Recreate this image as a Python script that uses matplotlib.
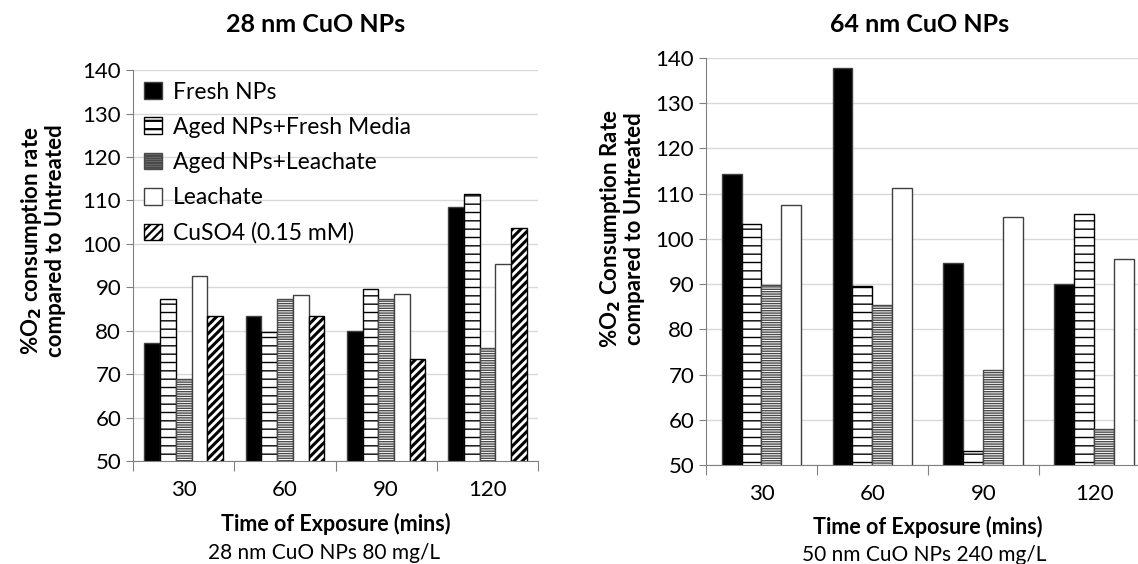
#!/usr/bin/env python3
# Two grouped bar charts: O2 consumption rate vs exposure time for CuO NPs

import numpy as np
import matplotlib
matplotlib.use('Agg')
import matplotlib.pyplot as plt

OUTPUTFILE = "out.png"

# data
times = ["30", "60", "90", "120"]
series_left = ["Fresh NPs", "Aged NPs+Fresh Media", "Aged NPs+Leachate",
               "Leachate", "CuSO4 (0.15 mM)"]
fresh_28 = [77.1, 83.3, 79.9, 108.5]
aged_media_28 = [87.2, 79.8, 89.6, 111.5]
aged_leach_28 = [68.8, 87.2, 87.4, 76.1]
leachate_28 = [92.5, 88.2, 88.4, 95.4]
cuso4_28 = [83.5, 83.5, 73.6, 103.6]

fresh_64 = [114.3, 137.7, 94.7, 90.1]
aged_media_64 = [103.4, 89.6, 53.1, 105.4]
aged_leach_64 = [89.9, 85.4, 71.0, 58.0]
leachate_64 = [107.6, 111.2, 104.8, 95.5]

yticks = np.arange(50, 141, 10)

plt.rcParams['font.family'] = ['Lato', 'DejaVu Sans']
plt.rcParams['hatch.linewidth'] = 1.0

# (facecolor, edgecolor, hatch, hatch linewidth) per series
styles = [
    ("black", "#404040", None, 1.0),
    ("white", "black", "--", 1.0),
    ("white", "#4a4a4a", "-------", 1.0),
    ("white", "#404040", None, 1.0),
    ("white", "black", "////", 2.2),
]


def style_axes(ax):
    ax.set_xlim(-0.5, 3.5)
    ax.set_ylim(50, 140)
    ax.set_yticks(yticks)
    ax.tick_params(axis='y', labelsize=16, length=5, color='#808080')
    # boundaries get tick marks, centres get the labels
    ax.set_xticks(np.arange(-0.5, 4, 1))
    ax.set_xticklabels([])
    ax.set_xticks(np.arange(4), minor=True)
    ax.set_xticklabels(times, minor=True, fontsize=16)
    ax.tick_params(axis='x', which='major', length=7, color='#808080')
    ax.tick_params(axis='x', which='minor', length=0, pad=14)
    ax.yaxis.grid(True, color='#d9d9d9', linewidth=1)
    ax.set_axisbelow(True)
    for s in ['top', 'right']:
        ax.spines[s].set_visible(False)
    for s in ['left', 'bottom']:
        ax.spines[s].set_color('#808080')


def main():
    fig = plt.figure(figsize=(11.38, 5.64), dpi=100)
    ind = np.arange(len(times))

    # left chart, 28 nm
    ax1 = fig.add_axes([0.1169, 0.1826, 0.356, 0.693])
    left_data = [fresh_28, aged_media_28, aged_leach_28, leachate_28, cuso4_28]
    width = 0.155
    for i, vals in enumerate(left_data):
        fc, ec, h, hlw = styles[i]
        with plt.rc_context({'hatch.linewidth': hlw}):
            ax1.bar(ind + (i - 2) * width, vals, width, bottom=0,
                    color=fc, edgecolor=ec, hatch=h, linewidth=1,
                    label=series_left[i])
    style_axes(ax1)
    with plt.rc_context({'hatch.linewidth': 1.6}):
        ax1.legend(loc='upper left', frameon=False, fontsize=16.5,
                   handlelength=0.75, handleheight=0.75, handletextpad=0.5,
                   labelspacing=0.62, borderaxespad=0.1,
                   bbox_to_anchor=(0.0, 1.0))
    ax1.set_xlabel("Time of Exposure (mins)", fontsize=15.5, fontweight='bold',
                   labelpad=9)
    ax1.set_ylabel("%O$_\\mathbf{2}$ consumption rate\ncompared to Untreated",
                   fontsize=16, fontweight='bold', linespacing=1.05)
    ax1.yaxis.set_label_coords(-0.165, 0.565)

    # right chart, 64 nm
    ax2 = fig.add_axes([0.6204, 0.1755, 0.390, 0.7216])
    right_data = [fresh_64, aged_media_64, aged_leach_64, leachate_64]
    width = 0.18
    for i, vals in enumerate(right_data):
        fc, ec, h, hlw = styles[i]
        ax2.bar(ind + (i - 1.5) * width, vals, width, bottom=0,
                color=fc, edgecolor=ec, hatch=h, linewidth=1)
    style_axes(ax2)
    ax2.set_xlabel("Time of Exposure (mins)", fontsize=15.5, fontweight='bold',
                   labelpad=8)
    ax2.set_ylabel("%O$_\\mathbf{2}$ Consumption Rate\ncompared to Untreated",
                   fontsize=16, fontweight='bold', linespacing=1.05)
    ax2.yaxis.set_label_coords(-0.137, 0.58)

    # titles and captions
    fig.text(316 / 1138, 1 - 25 / 564, "28 nm CuO NPs", fontsize=18,
             fontweight='bold', ha='center', va='center')
    fig.text(920 / 1138, 1 - 25 / 564, "64 nm CuO NPs", fontsize=18,
             fontweight='bold', ha='center', va='center')
    fig.text(324 / 1138, 1 - 553 / 564, "28 nm CuO NPs 80 mg/L", fontsize=15,
             ha='center', va='center')
    fig.text(924 / 1138, 1 - 555 / 564, "50 nm CuO NPs 240 mg/L", fontsize=15,
             ha='center', va='center')

    plt.savefig(OUTPUTFILE, dpi=100, facecolor='white')
    print("Graph created: " + OUTPUTFILE)


if __name__ == "__main__":
    main()
